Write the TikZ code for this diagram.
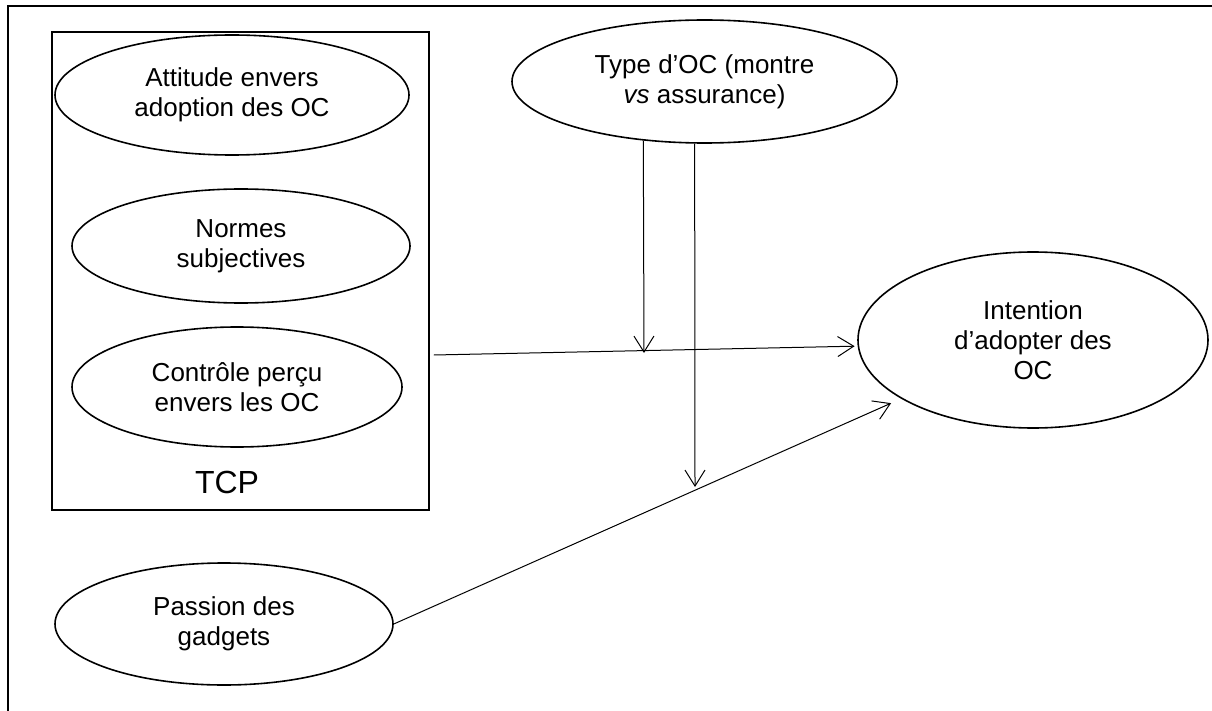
\documentclass[tikz,border=0pt]{standalone}
\usepackage{fontspec}
\setmainfont{Liberation Sans}
\usetikzlibrary{shapes.geometric,arrows.meta}

\begin{document}
\begin{tikzpicture}[x=1pt,y=1pt,>={Straight Barb[length=16pt,width=20pt]},
                    line width=1pt,
                    oval node/.style={ellipse,draw,line width=1.6pt,inner sep=0pt,align=center,
                                      font=\fontsize{26}{30}\selectfont},
                    frame line/.style={line width=1.8pt}]
  \useasboundingbox (0,0) rectangle (1212,-711);
  \draw[frame line] (8,-711) -- (8,-6) -- (1212,-6);
  % TCP block
  \node[draw,frame line,inner sep=0pt,minimum width=377pt,minimum height=478pt] (tcp) at (240.5,-271) {};
  \node[font=\fontsize{32}{36}\selectfont] (tcplabel) at (227,-482) {TCP};
  \node[oval node,minimum width=354pt,minimum height=120pt] (att) at (232,-95) {Attitude envers\\adoption des OC};
  \node[oval node,minimum width=338pt,minimum height=114pt] (norm) at (241,-246) {Normes\\subjectives};
  \node[oval node,minimum width=330pt,minimum height=120pt] (ctrl) at (237,-387) {Contrôle perçu\\envers les OC};
  % other variables
  \node[oval node,minimum width=385pt,minimum height=123pt] (type) at (704.5,-81.5) {Type d’OC (montre\\\textit{vs} assurance)};
  \node[oval node,minimum width=350pt,minimum height=176pt] (int) at (1033,-340) {Intention\\d’adopter des\\OC};
  \node[oval node,minimum width=338pt,minimum height=122pt] (pas) at (224,-624) {Passion des\\gadgets};
  \coordinate (mod1) at (644,-353);
  \coordinate (mod2) at (695,-487);
  \path[->]
    ([xshift=4pt,yshift=-84pt]tcp.east) edge [shorten >=3pt] (int.182)
    (pas.east) edge [shorten >=11pt] (int.204)
    (type.224) edge (mod1)
    (type.261) edge (mod2);
\end{tikzpicture}
\end{document}
